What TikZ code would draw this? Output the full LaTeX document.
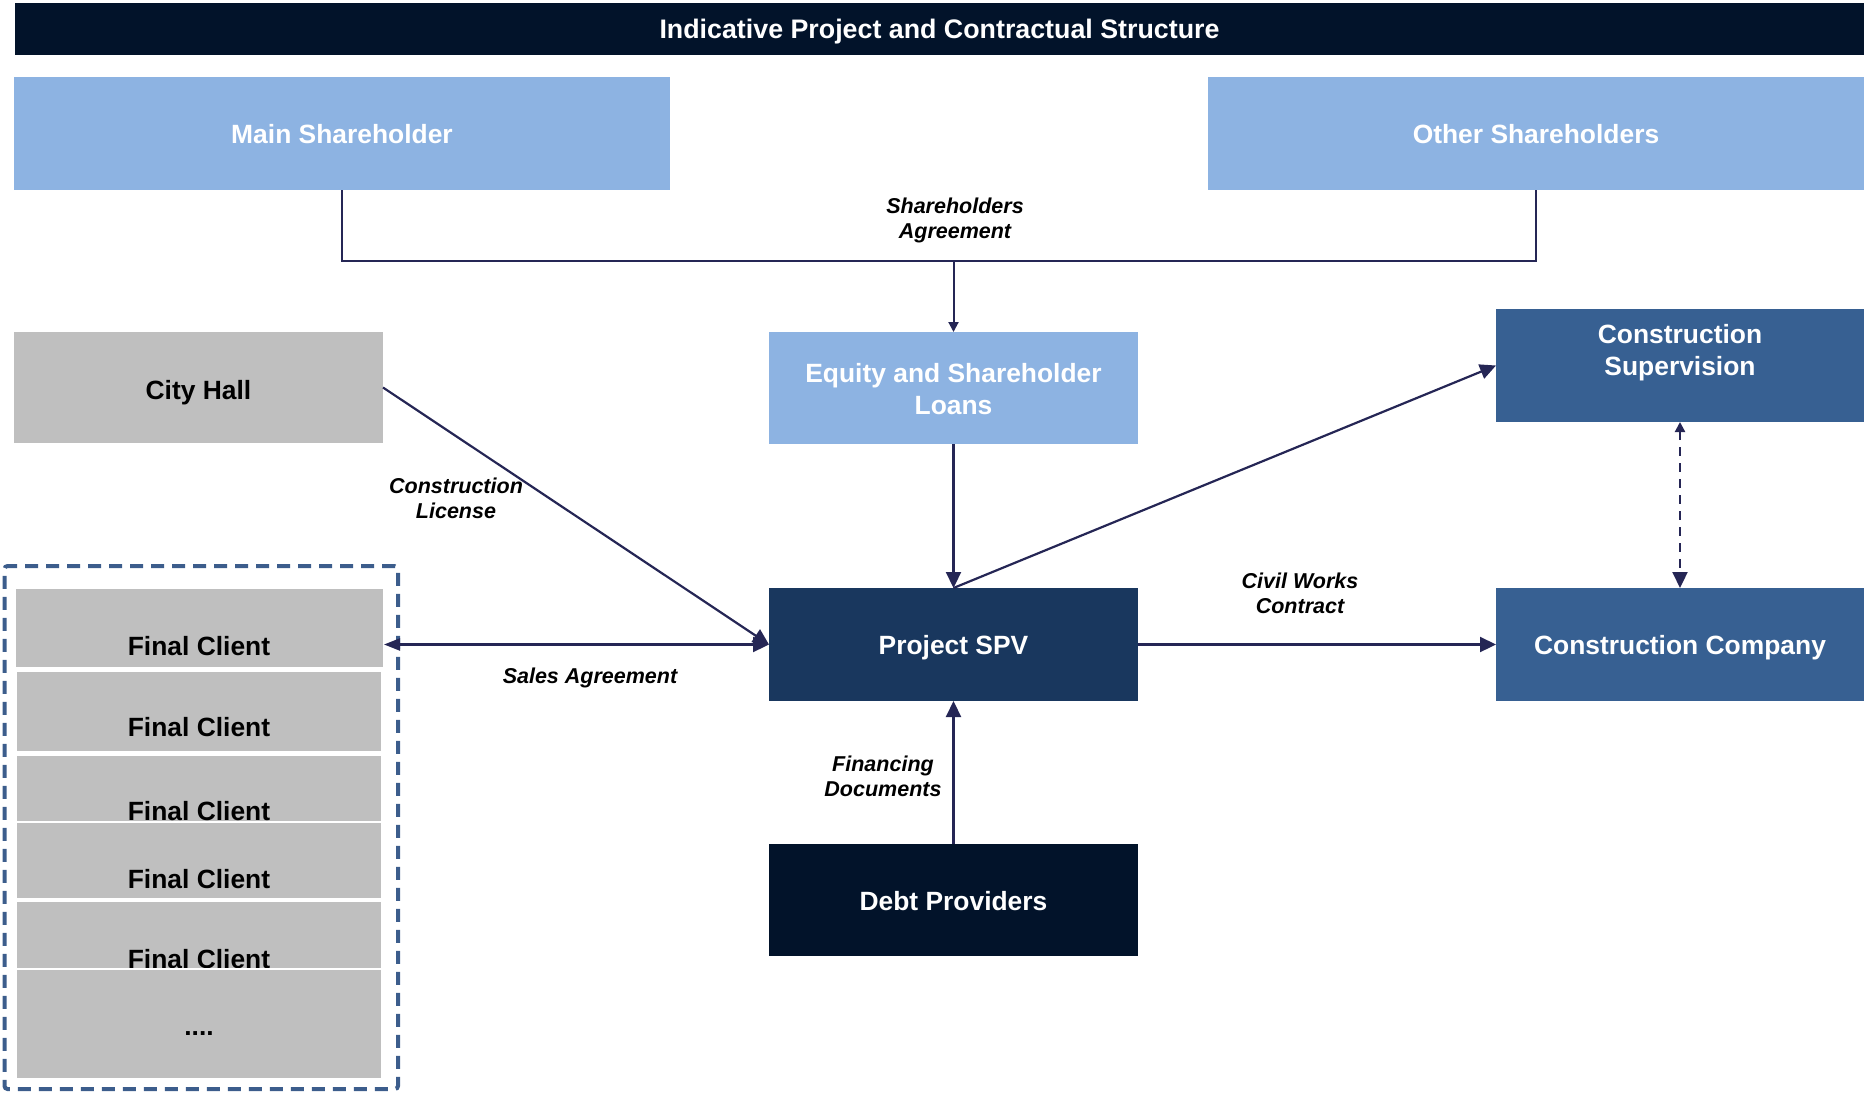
\documentclass[tikz,border=0pt]{standalone}
\usepackage{fontspec}
\setmainfont{Liberation Sans}
\usetikzlibrary{arrows.meta}

\definecolor{titlenavy}{RGB}{2,19,42}
\definecolor{paleblue}{RGB}{141,179,226}
\definecolor{steelblue}{RGB}{55,96,146}
\definecolor{spvblue}{RGB}{25,55,94}
\definecolor{clientgray}{RGB}{191,191,191}
\definecolor{linknavy}{RGB}{37,38,85}
\definecolor{groupblue}{RGB}{60,93,140}

% centred lines whose baseline is the first line
\newcommand{\twolines}[1]{\begin{tabular}[t]{@{}c@{}}#1\end{tabular}}

\tikzset{
  blk/.style 2 args={rectangle, anchor=north west, inner sep=0pt, outer sep=0pt,
    minimum width=#1pt, minimum height=#2pt},
  boxfont/.style={font=\bfseries\fontsize{26.4}{32}\selectfont, text height=19pt, text depth=0pt},
  boxtext/.style={font=\bfseries\fontsize{26.4}{32}\selectfont, inner sep=0pt, anchor=base},
  lbl/.style={font=\bfseries\itshape\fontsize{21.5}{25}\selectfont, text=black, inner sep=0pt, anchor=base},
  client/.style={fill=clientgray, draw=white, line width=1.6pt},
  link/.style={draw=linknavy, line width=2.2pt},
  thinlink/.style={draw=linknavy, line width=2pt},
  bighead/.style={-{Triangle[length=16pt,width=15pt]}},
}

\begin{document}
\begin{tikzpicture}[x=1pt,y=-1pt]
\useasboundingbox (0,0) rectangle (1864,1093);

% heading bar
\node[blk={1849}{52}, fill=titlenavy, text=white, boxfont,
  font=\bfseries\fontsize{26.8}{32}\selectfont] (title) at (15,3)
  {Indicative Project and Contractual Structure};

% shareholders
\node[blk={656}{113}, fill=paleblue, text=white, boxfont] (main) at (14,77) {Main Shareholder};
\node[blk={656}{113}, fill=paleblue, text=white, boxfont] (other) at (1208,77) {Other Shareholders};

% middle row
\node[blk={369}{111}, fill=clientgray, text=black, boxfont, text height=23pt] (city) at (14,332) {City Hall};
\node[blk={369}{112}, fill=paleblue] (equity) at (769,332) {};
\node[boxtext, text=white] (equityt) at (953.5,382.5) {\twolines{Equity and Shareholder\\Loans}};
\node[blk={368}{113}, fill=steelblue] (sup) at (1496,309) {};
\node[boxtext, text=white] (supt) at (1680,343.5) {\twolines{Construction\\Supervision}};

% project company row
\node[blk={369}{113}, fill=spvblue, text=white, boxfont] (spv) at (769,588) {Project SPV};
\node[blk={368}{113}, fill=steelblue, text=white, boxfont] (comp) at (1496,588) {Construction Company};

% lenders
\node[blk={369}{112}, fill=titlenavy, text=white, boxfont, text height=20.5pt] (debt) at (769,844) {Debt Providers};

% final clients, stacked
\node[blk={369}{80}, client] (fc1) at (15,588) {};
\node[boxtext, text=black] (fc1t) at (199,655) {Final Client};
\node[blk={366}{81}, client] (fc2) at (16,671) {};
\node[boxtext, text=black] (fc2t) at (199,736) {Final Client};
\node[blk={366}{67}, client] (fc3) at (16,755) {};
\node[boxtext, text=black] (fc3t) at (199,820) {Final Client};
\node[blk={366}{77}, client] (fc4) at (16,822) {};
\node[boxtext, text=black] (fc4t) at (199,888) {Final Client};
\node[blk={366}{68}, client] (fc5) at (16,901) {};
\node[boxtext, text=black] (fc5t) at (199,968) {Final Client};
\node[blk={366}{110}, client] (fc6) at (16,969) {};
\node[boxtext, text=black] (fc6t) at (199,1035) {....};

\node[blk={393.5}{523}, draw=groupblue, line width=4pt, dash pattern=on 13pt off 8pt,
  rounded corners=3pt] (clients) at (4.5,566) {};

% shareholder bracket
\coordinate (bus) at (953.5,261);
\draw[thinlink] (main.south) |- (bus) -| (other.south);
\draw[thinlink, -{Triangle[length=10pt,width=10pt]}] (bus) -- (equity.north);

% connectors
\draw[link, bighead] (city.east) -- (spv.west);
\draw[link, {Triangle[length=16pt,width=12pt]}-{Triangle[length=16pt,width=15pt]}]
  (spv.west -| fc1.east) -- (spv.west);
\draw[link, bighead] (equity.south) -- (spv.north);
\draw[link, bighead] (spv.north) -- (sup.west);
\draw[link, bighead] (spv.east) -- (comp.west);
\draw[link, bighead] (debt.north) -- (spv.south);
\draw[link, dash pattern=on 9pt off 7pt,
  {Triangle[length=10pt,width=10pt]}-{Triangle[length=16pt,width=15pt]}]
  (sup.south) -- (comp.north);

% connector labels
\node[lbl] (sha) at (955,213) {\twolines{Shareholders\\Agreement}};
\node[lbl] (lic) at (456,493) {\twolines{Construction\\License}};
\node[lbl] (sales) at (590,683) {Sales Agreement};
\node[lbl] (civil) at (1300,588) {\twolines{Civil Works\\Contract}};
\node[lbl] (fin) at (883,771) {\twolines{Financing\\Documents}};
\end{tikzpicture}
\end{document}
